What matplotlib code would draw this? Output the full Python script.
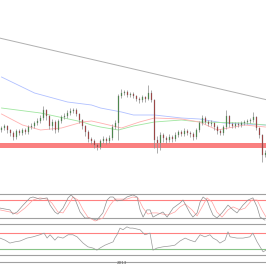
import numpy as np
import matplotlib
matplotlib.use("Agg")
import matplotlib.pyplot as plt

# closes, highs, lows of the candles (price index)
closes = [32, 34, 30, 27, 23, 29, 27, 30, 28, 33, 34, 37, 39, 42, 50, 44, 34, 38, 30, 39,
          43, 44, 47, 49, 50, 46, 40, 34, 28, 21, 19, 15, 13, 19, 21, 19, 22, 33, 37, 64,
          67, 68, 65, 66, 64, 61, 60, 63, 61, 67, 60, 20, 17, 25, 22, 20, 23, 21, 25, 28,
          26, 29, 27, 26, 23, 30, 37, 42, 38, 36, 37, 33, 29, 27, 33, 44, 36, 34, 36, 35,
          37, 38, 39, 40, 43, 32, 25, 5, 7]
opens = [30, 32, 34, 30, 27, 23, 29, 27, 30, 28, 33, 34, 37, 39, 42, 50, 44, 34, 38, 30,
         39, 43, 44, 47, 49, 50, 46, 40, 34, 28, 21, 19, 15, 13, 19, 21, 19, 22, 33, 37,
         64, 67, 68, 65, 66, 64, 61, 60, 63, 61, 67, 60, 20, 17, 25, 22, 20, 23, 21, 25,
         28, 26, 29, 27, 26, 23, 30, 37, 42, 38, 36, 37, 33, 29, 27, 33, 44, 36, 34, 36,
         35, 37, 38, 39, 40, 43, 32, 25, 5]
highs = [34, 36, 35, 31, 29, 31, 31, 32, 32, 35, 37, 39, 42, 45, 54, 51, 45, 41, 40, 41,
         45, 47, 50, 52, 52, 52, 47, 41, 35, 30, 23, 21, 17, 21, 24, 23, 25, 36, 40, 66,
         71, 70, 70, 68, 68, 65, 63, 65, 64, 75, 70, 61, 24, 28, 27, 24, 26, 25, 28, 30,
         30, 32, 31, 29, 28, 32, 39, 45, 44, 40, 40, 38, 35, 31, 35, 50, 45, 38, 38, 38,
         39, 40, 41, 42, 48, 44, 33, 26, 10]
lows = [28, 30, 27, 24, 20, 21, 25, 25, 26, 26, 31, 32, 35, 37, 40, 40, 31, 30, 27, 28,
        37, 41, 42, 45, 47, 44, 37, 31, 24, 18, 16, 12, 10, 11, 17, 16, 17, 20, 31, 20,
        62, 65, 63, 63, 62, 59, 57, 58, 58, 60, 58, 12, 7, 10, 18, 17, 18, 18, 19, 23,
        24, 24, 25, 23, 20, 21, 28, 35, 36, 34, 34, 30, 26, 25, 25, 31, 33, 32, 32, 33,
        33, 35, 36, 37, 38, 30, 22, -2, 3]

# moving averages (bar, value)
ma_blue_x = [0, 11, 22, 30, 33, 40, 44, 51, 60, 66, 74, 88]
ma_blue = [83, 67, 58, 55, 52, 48, 45, 45, 42, 41, 37, 35]
ma_green_x = [0, 13, 27, 30, 33, 39, 44, 51, 60, 66, 81, 88]
ma_green = [52, 47, 38, 35, 33, 30, 34, 38, 40, 38, 37, 35]
ma_red_x = [0, 7, 13, 20, 27, 30, 33, 40, 46, 51, 60, 66, 72, 81, 88]
ma_red = [46, 35, 30, 32, 38, 39, 37, 32, 38, 42, 41, 38, 30, 35, 33]
trend_x = [0, 88]
trend = [121.5, 60.5]
support = (12, 17)

# stochastic %K / %D
k_x = [-0.5, 2.8, 3.8, 5.2, 7.2, 9.5, 10.5, 12.8, 15.2, 16.2, 17.8, 18.8, 20.5, 22.2, 23.2,
       24.5, 26.2, 27.8, 29.5, 31.8, 33.8, 35.2, 36.2, 37.2, 38.5, 40.5, 41.8, 43.8, 45.2,
       46.2, 47.2, 48.5, 49.5, 50.5, 51.8, 53.8, 55.2, 57.2, 59.5, 60.5, 62.8, 63.8, 65.2,
       66.2, 67.2, 68.5, 69.5, 70.5, 71.8, 73.5, 75.5, 77.2, 78.5, 80.5, 82.2, 83.8, 85.2,
       86.2, 87.8]
k_val = [53, 47, 33, 40, 63, 87, 90, 83, 87, 63, 40, 33, 53, 87, 97, 83, 40, 20, 20, 13,
         37, 80, 90, 90, 77, 80, 90, 97, 90, 47, 23, 47, 47, 23, 30, 40, 23, 53, 70, 80,
         37, 23, 37, 73, 90, 80, 53, 30, 20, 37, 63, 47, 37, 63, 80, 87, 57, 23, 13]
d_x = [-0.5, 2.8, 5.2, 7.8, 10.5, 12.8, 15.2, 16.8, 18.8, 20.5, 22.2, 23.8, 25.5, 27.2, 28.8,
       31.2, 33.8, 36.2, 37.8, 39.5, 41.8, 43.8, 45.5, 47.2, 48.8, 50.2, 51.8, 53.8, 55.5,
       57.8, 59.5, 61.2, 63.5, 65.2, 67.2, 68.5, 70.2, 71.8, 73.5, 75.5, 77.2, 79.5, 81.2,
       83.5, 85.2, 86.8, 88.2]
d_val = [47, 40, 33, 53, 80, 87, 83, 70, 40, 37, 63, 90, 80, 47, 23, 10, 20, 63, 83, 83,
         83, 90, 87, 53, 33, 37, 37, 33, 30, 40, 57, 67, 47, 27, 63, 87, 73, 40, 23, 47,
         57, 47, 53, 80, 80, 47, 23]

# RSI
rsi_x = [-0.5, 1.2, 2.8, 4.5, 6.2, 8.5, 10.5, 12.8, 14.2, 15.2, 16.2, 17.8, 18.8, 20.5, 22.2,
         23.8, 25.2, 27.2, 28.8, 30.5, 31.8, 32.8, 34.5, 36.2, 37.2, 37.8, 38.5, 39.5, 40.5,
         41.8, 42.8, 43.8, 46.2, 47.8, 49.5, 50.5, 51.8, 53.8, 56.2, 57.8, 59.5, 61.2, 62.8,
         64.5, 66.2, 67.8, 69.5, 70.5, 71.8, 72.8, 74.5, 75.5, 76.2, 78.5, 80.5, 82.8, 83.8,
         85.2, 86.2, 87.2, 88.2]
rsi_val = [57, 52, 45, 48, 50, 57, 60, 65, 69, 57, 65, 52, 60, 57, 65, 65, 60, 45, 36, 33,
           28, 33, 40, 45, 48, 57, 65, 81, 77, 84, 81, 81, 77, 65, 69, 28, 33, 36, 38, 40,
           50, 57, 52, 48, 65, 60, 65, 57, 52, 45, 52, 72, 60, 57, 57, 60, 69, 48, 36, 24, 28]

W, H = 266, 266
fig = plt.figure(figsize=(2.66, 2.66), dpi=100)
xlim = (-0.5, 88.17)


def axes_px(top, bottom):
    return fig.add_axes([0, 1 - bottom / H, 1, (bottom - top) / H])


ax = axes_px(0, 165)
ax.set_xlim(*xlim)
ax.set_ylim(-5, 160)
ax.axis("off")

ax.axhspan(support[0], support[1], color="#fa8080", lw=0, zorder=1)
ax.axline((trend_x[0], trend[0]), (trend_x[1], trend[1]), color="#b0b0b0", lw=0.7, zorder=2)
ax.plot(ma_blue_x, ma_blue, color="#b0c0ff", lw=0.6, zorder=2)
ax.plot(ma_green_x, ma_green, color="#a0e6a0", lw=0.6, zorder=2)
ax.plot(ma_red_x, ma_red, color="#ffb0b0", lw=0.6, zorder=2)

x = np.arange(len(closes))
o = np.array(opens)
c = np.array(closes)
ax.vlines(x, lows, highs, color="#8c8c8c", lw=0.5, zorder=3)
up = c >= o
cols = np.where(up, "#3a8a3a", "#a83030")
ax.bar(x, np.maximum(np.abs(c - o), 0.6), bottom=np.minimum(o, c), width=0.55,
       color=cols, edgecolor="#808080", linewidth=0.2, zorder=4)

# stochastic
ax2 = axes_px(194, 224)
ax2.set_xlim(*xlim)
ax2.set_ylim(0, 100)
ax2.axis("off")
for lvl, col in [(100, "#a0a0a0"), (80, "#ff8080"), (20, "#a0a0a0"), (0, "#a0a0a0")]:
    ax2.axhline(lvl, color=col, lw=0.8, clip_on=False)
ax2.plot(d_x, d_val, color="#ffa0a0", lw=0.5, clip_on=False)
ax2.plot(k_x, k_val, color="#909090", lw=0.5, clip_on=False)

# RSI
ax3 = axes_px(220.2, 261.8)
ax3.set_xlim(*xlim)
ax3.set_ylim(0, 100)
ax3.axis("off")
for lvl, col in [(70, "#ff8080"), (30, "#88c488"), (16, "#a0a0a0"), (0, "#a0a0a0")]:
    ax3.axhline(lvl, color=col, lw=0.8, clip_on=False)
ax3.plot(rsi_x, rsi_val, color="#999999", lw=0.5, clip_on=False)

fig.text(122 / W, 1 - 263 / H, "2013", fontsize=3, color="#555555", ha="center", va="center")

fig.savefig("out.png", dpi=100)
